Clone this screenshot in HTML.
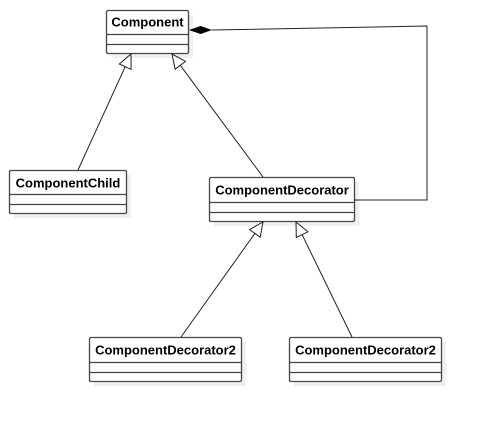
<!DOCTYPE html>
<html><head><meta charset="utf-8"><style>
html,body{margin:0;padding:0;background:#fff;}
svg{display:block;}
text{font-family:"Liberation Sans",Arial,sans-serif;font-weight:bold;font-size:13px;fill:#000;}
</style></head><body>
<svg width="481" height="422" viewBox="0 0 481 422" xmlns="http://www.w3.org/2000/svg">
<g fill="#f0f0f0">
<rect x="111" y="15" width="82" height="43"/>
<rect x="14" y="175" width="117" height="43"/>
<rect x="214" y="182" width="145" height="44"/>
<rect x="94" y="342" width="152" height="44"/>
<rect x="294" y="342" width="152" height="44"/>
</g>
<g fill="#fff" stroke="#444" stroke-width="1.3">
<rect x="106.5" y="10.5" width="82" height="43" rx="1.5"/>
<rect x="9.5" y="170.5" width="117" height="43" rx="1.5"/>
<rect x="209.5" y="177.5" width="145" height="44" rx="1.5"/>
<rect x="89.5" y="337.5" width="152" height="44" rx="1.5"/>
<rect x="289.5" y="337.5" width="152" height="44" rx="1.5"/>
</g>
<g stroke="#444" stroke-width="1.3">
<line x1="106.5" y1="34.5" x2="188.5" y2="34.5"/><line x1="106.5" y1="44.5" x2="188.5" y2="44.5"/>
<line x1="9.5" y1="194.5" x2="126.5" y2="194.5"/><line x1="9.5" y1="204.5" x2="126.5" y2="204.5"/>
<line x1="209.5" y1="202.5" x2="354.5" y2="202.5"/><line x1="209.5" y1="212.5" x2="354.5" y2="212.5"/>
<line x1="89.5" y1="362.5" x2="241.5" y2="362.5"/><line x1="89.5" y1="372.5" x2="241.5" y2="372.5"/>
<line x1="289.5" y1="362.5" x2="441.5" y2="362.5"/><line x1="289.5" y1="372.5" x2="441.5" y2="372.5"/>
</g>
<text x="147.5" y="26.5" text-anchor="middle">Component</text>
<text x="68" y="187.5" text-anchor="middle">ComponentChild</text>
<text x="282" y="194.5" text-anchor="middle">ComponentDecorator</text>
<text x="165.5" y="354.5" text-anchor="middle">ComponentDecorator2</text>
<text x="365.5" y="354.5" text-anchor="middle">ComponentDecorator2</text>
<g stroke="#222" stroke-width="1" fill="none">
<line x1="78" y1="170" x2="125.2" y2="66.7"/>
<line x1="263" y1="177" x2="180.3" y2="65.3"/>
<line x1="181" y1="337" x2="254.9" y2="233.4"/>
<line x1="352" y1="337" x2="302.1" y2="234.6"/>
<polyline points="212,30 427,26 427,200 354,200"/>
</g>
<g stroke="#222" stroke-width="1" fill="#fff">
<polygon points="131,54 131.1,69.4 119.3,64"/>
<polygon points="172,54 185.5,61.4 175.1,69.2"/>
<polygon points="263,222 260.2,237.2 249.6,229.6"/>
<polygon points="296,222 307.9,231.8 296.3,237.4"/>
</g>
<polygon points="189,30 200.5,26 212,30 200.5,34" fill="#000"/>
</svg>
</body></html>
